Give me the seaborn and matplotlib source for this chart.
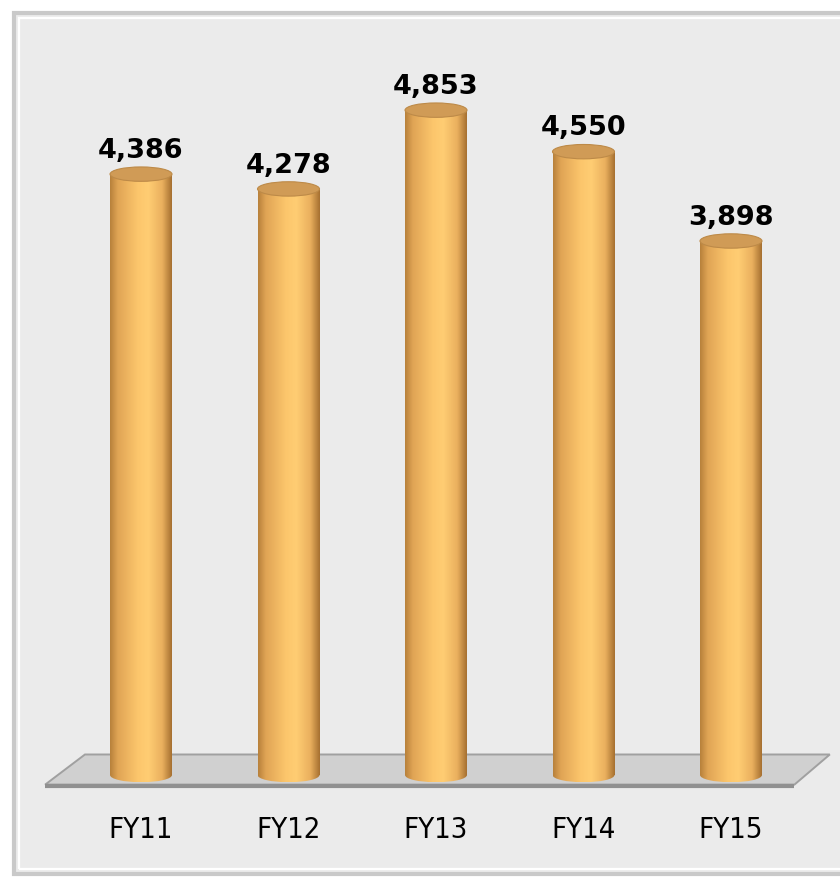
import numpy as np
import pandas as pd
import seaborn as sns
import matplotlib.pyplot as plt
from matplotlib.patches import Ellipse, Polygon, Rectangle
from matplotlib.colors import LinearSegmentedColormap

# chart data
years = ["FY11", "FY12", "FY13", "FY14", "FY15"]
counts = [4386, 4278, 4853, 4550, 3898]

df = pd.DataFrame({"year": years, "count": counts})

sns.set_style("white")
plt.rcParams['font.family'] = ['DejaVu Sans']

fig = plt.figure(figsize=(8.4, 8.83), dpi=100)
fig.patch.set_facecolor("white")

# panel frame (figure pixel coords -> fraction)
W, H = 840.0, 883.0
fig.patches.append(Rectangle((14 / W, (H - 874) / H), (850 - 14) / W, (874 - 13) / H,
                             transform=fig.transFigure, facecolor="#ebebeb",
                             edgecolor="#c9c9c9", linewidth=3.0, zorder=-2))
fig.patches.append(Rectangle((19 / W, (H - 869) / H), (850 - 19) / W, (869 - 18) / H,
                             transform=fig.transFigure, facecolor="none",
                             edgecolor="white", linewidth=1.6, zorder=-1))

ax = fig.add_axes([0, 0, 1, 1])
ax.patch.set_alpha(0)

barw = 0.42
sns.barplot(data=df, x="year", y="count", color="#f5b860", width=barw,
            ax=ax, zorder=2)

x_lo, x_hi = -0.956, 4.739
y_lo, y_hi = -788, 5657
ell_h = 105  # ellipse height in data units

cyl = LinearSegmentedColormap.from_list(
    "cyl", [(0.0, "#b9823c"), (0.12, "#e0a455"), (0.45, "#fcc66c"),
            (0.62, "#ffcd73"), (0.85, "#eab05e"), (1.0, "#a87232")])
grad = cyl(np.linspace(0, 1, 64))[None, :, :]

# floor
floor = Polygon([(-0.65, -70), (-0.38, 150), (4.67, 150), (4.43, -70)],
                closed=True, facecolor="#d0d0d0", edgecolor="#a0a0a0",
                linewidth=1.4, zorder=1)
ax.add_patch(floor)
ax.plot([-0.65, 4.43], [-80, -80], color="#909090", linewidth=3.0, zorder=1,
        solid_capstyle="butt")

for i, p in enumerate(ax.patches[:len(years)]):
    x0 = p.get_x()
    v = counts[i]
    p.set_facecolor("none")
    p.set_edgecolor("none")
    im = ax.imshow(grad, extent=[x0, x0 + barw, 0, v], aspect="auto",
                   zorder=3, interpolation="bilinear")
    im.set_clip_path(p)
    bottom = Ellipse((x0 + barw / 2, 0), barw, ell_h, facecolor="none",
                     edgecolor="none", zorder=3)
    ax.add_patch(bottom)
    im2 = ax.imshow(grad, extent=[x0, x0 + barw, -ell_h / 2, 0], aspect="auto",
                    zorder=3, interpolation="bilinear")
    im2.set_clip_path(bottom)
    top = Ellipse((x0 + barw / 2, v), barw, ell_h, facecolor="#d09b56",
                  edgecolor="#bd8a48", linewidth=0.8, zorder=4)
    ax.add_patch(top)
    ax.text(x0 + barw / 2, v + ell_h / 2 + 22, f"{v:,}", ha="center",
            va="bottom", fontsize=19.5, fontweight="bold", color="black",
            zorder=5)
    ax.text(x0 + barw / 2, -400, years[i], ha="center", va="center",
            fontsize=21, color="black", zorder=5, fontstretch="condensed",
            family=["DejaVu Sans"])

ax.set_xlim(x_lo, x_hi)
ax.set_ylim(y_lo, y_hi)
ax.axis("off")

fig.savefig("out.png", dpi=100)
